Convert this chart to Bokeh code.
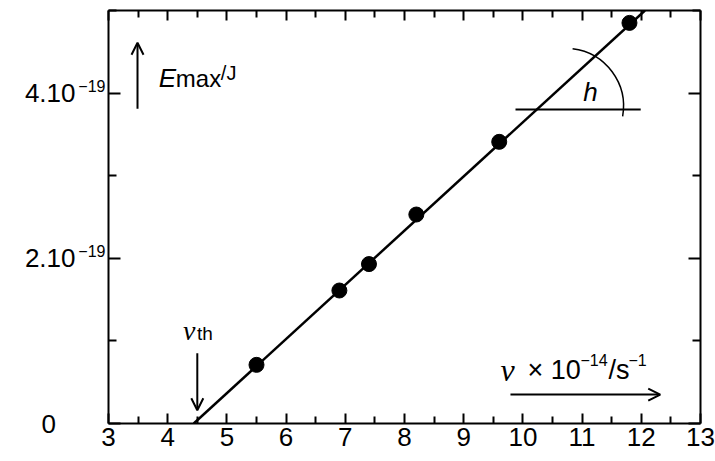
from bokeh.plotting import figure
from bokeh.models import LinearAxis, FixedTicker, Arrow, OpenHead, Range1d, CustomJSTickFormatter
from bokeh.core.properties import value
from bokeh.embed import file_html
from bokeh.resources import INLINE

# Photoelectric effect: maximum kinetic energy vs. light frequency
freq = [5.5, 6.9, 7.4, 8.2, 9.6, 11.8]          # nu in 1e14 Hz
e_max = [0.71, 1.61, 1.93, 2.53, 3.41, 4.85]     # E_max in 1e-19 J

# straight-line fit: threshold frequency and slope (Planck constant)
nu_th = 4.44        # 1e14 Hz
slope = 0.656       # 1e-19 J per 1e14 Hz  -> h = 6.56e-34 J s

x_ticks = list(range(3, 14))
x_minor = [t + 0.5 for t in range(3, 13)]
y_ticks = [0, 2, 4]
y_minor = [1, 3, 5]
# y tick text: mantissa on an outer axis, exponent raised on an inner one
y_tick_mantissa = {0: "0\u2007\u2009", 2: "2.10", 4: "4.10"}
y_exponent = "\u221219"
y_exp_ticks = [2, 4]

SANS = value("Liberation Sans")
SERIF = value("Liberation Serif")
LABEL_SIZE = "26px"
SUP_SIZE = "16px"
SUP_RAISE = 0.085   # data units (about 7 px) that the exponent sits above its tick

p = figure(width=715, height=461, x_range=Range1d(3, 13), y_range=Range1d(0, 5),
           output_backend="svg", toolbar_location=None,
           min_border_left=108, min_border_right=15, min_border_top=10, min_border_bottom=38,
           background_fill_color="white", border_fill_color="white")
p.grid.visible = False
p.outline_line_color = None

xt = FixedTicker(ticks=x_ticks, minor_ticks=x_minor)
yt = FixedTicker(ticks=y_ticks, minor_ticks=y_minor)


def style_axis(ax, major, minor):
    ax.axis_line_width = 2
    ax.axis_line_color = "black"
    ax.major_tick_line_width = 2
    ax.minor_tick_line_width = 2
    ax.major_tick_line_color = "black"
    ax.minor_tick_line_color = "black"
    ax.major_tick_in = major
    ax.major_tick_out = 0
    ax.minor_tick_in = minor
    ax.minor_tick_out = 0
    ax.major_label_text_font = "Liberation Sans"
    ax.major_label_text_font_size = LABEL_SIZE
    ax.major_label_text_color = "black"


def hide_labels(ax):
    ax.major_label_text_color = None
    ax.major_label_text_font_size = "1px"
    ax.major_label_standoff = 0


def hide_lines(ax):
    ax.axis_line_color = None
    ax.major_tick_line_color = None
    ax.minor_tick_line_color = None


p.xaxis.ticker = xt
style_axis(p.xaxis[0], 10, 7)
p.xaxis.major_label_standoff = 4

# inner left axis: frame edge and ticks only
p.yaxis.ticker = yt
style_axis(p.yaxis[0], 12, 8)
hide_labels(p.yaxis[0])

# exponents, raised slightly above their ticks
exp_axis = LinearAxis(ticker=FixedTicker(ticks=[t + SUP_RAISE for t in y_exp_ticks], minor_ticks=[]),
                      formatter=CustomJSTickFormatter(args=dict(txt=y_exponent), code="return txt"))
style_axis(exp_axis, 0, 0)
hide_lines(exp_axis)
exp_axis.major_label_text_font_size = SUP_SIZE
exp_axis.major_label_standoff = 3
p.add_layout(exp_axis, "left")

# outer left axis: the mantissas
mant = LinearAxis(ticker=yt, major_label_overrides=y_tick_mantissa)
style_axis(mant, 0, 0)
hide_lines(mant)
mant.major_label_standoff = 0
p.add_layout(mant, "left")

# tick marks only on the top and right edges of the frame
top = LinearAxis(ticker=xt)
right = LinearAxis(ticker=yt)
style_axis(top, 10, 7)
style_axis(right, 12, 8)
hide_labels(top)
hide_labels(right)
p.add_layout(top, "above")
p.add_layout(right, "right")

# fitted line from the threshold frequency up to the top of the frame
x_end = nu_th + 5 / slope
p.line([nu_th, x_end], [0, slope * (x_end - nu_th)], line_color="black", line_width=2.5)
p.scatter(freq, e_max, size=15, fill_color="black", line_color="black")

# slope marker: horizontal reference line and angle arc labelled h
p.line([9.875, 11.99], [3.80, 3.80], line_color="black", line_width=2)
p.arc(x=[10.72], y=[3.84], radius=58, radius_units="screen",
      start_angle=-10, end_angle=83, start_angle_units="deg", end_angle_units="deg",
      line_color="black", line_width=1.5)
p.text(x=[11.14], y=[4.01], text=["h"], text_font=SANS, text_font_style="italic",
       text_font_size="26px", text_align="center", text_baseline="alphabetic")

# axis annotations with arrows
head = dict(size=12, line_width=2, line_color="black")
p.add_layout(Arrow(end=OpenHead(**head), x_start=3.49, y_start=3.81, x_end=3.49, y_end=4.61,
                   line_width=2, line_color="black"))
p.add_layout(Arrow(end=OpenHead(**head), x_start=4.50, y_start=0.85, x_end=4.50, y_end=0.16,
                   line_width=2, line_color="black"))
p.add_layout(Arrow(end=OpenHead(**head), x_start=9.79, y_start=0.35, x_end=12.32, y_end=0.35,
                   line_width=2, line_color="black"))

# E_max / J
p.text(x=[3.85], y=[4.18], text=["E"], text_font=SANS, text_font_style="italic",
       text_font_size="26px", text_baseline="alphabetic")
p.text(x=[3.85], y=[4.18], text=["max"], x_offset=17, text_font=SANS,
       text_font_size="24px", text_baseline="alphabetic")
p.text(x=[3.85], y=[4.18], text=["/J"], x_offset=62, y_offset=-5, text_font=SANS,
       text_font_size="20px", text_baseline="alphabetic")

# nu_th
p.text(x=[4.26], y=[1.12], text=["\u03bd"], text_font=SERIF, text_font_style="italic",
       text_font_size="28px", text_baseline="alphabetic")
p.text(x=[4.26], y=[1.12], text=["th"], x_offset=14, y_offset=3, text_font=SANS,
       text_font_size="19px", text_baseline="alphabetic")

# nu x 10^-14 / s^-1
unit_y = 0.65
p.text(x=[9.62], y=[unit_y], text=["\u03bd"], text_font=SERIF, text_font_style="italic",
       text_font_size="32px", text_baseline="alphabetic")
unit_parts = [("\u00d7 10", 27, "27px", 0), ("\u221214", 80, SUP_SIZE, -10),
              ("/s", 108, "27px", 0), ("\u22121", 128, SUP_SIZE, -10)]
for txt, dx, size, dy in unit_parts:
    p.text(x=[9.62], y=[unit_y], text=[txt], x_offset=dx, y_offset=dy, text_font=SANS,
           text_font_size=size, text_baseline="alphabetic")

open("out.html", "w").write(file_html(p, INLINE))
